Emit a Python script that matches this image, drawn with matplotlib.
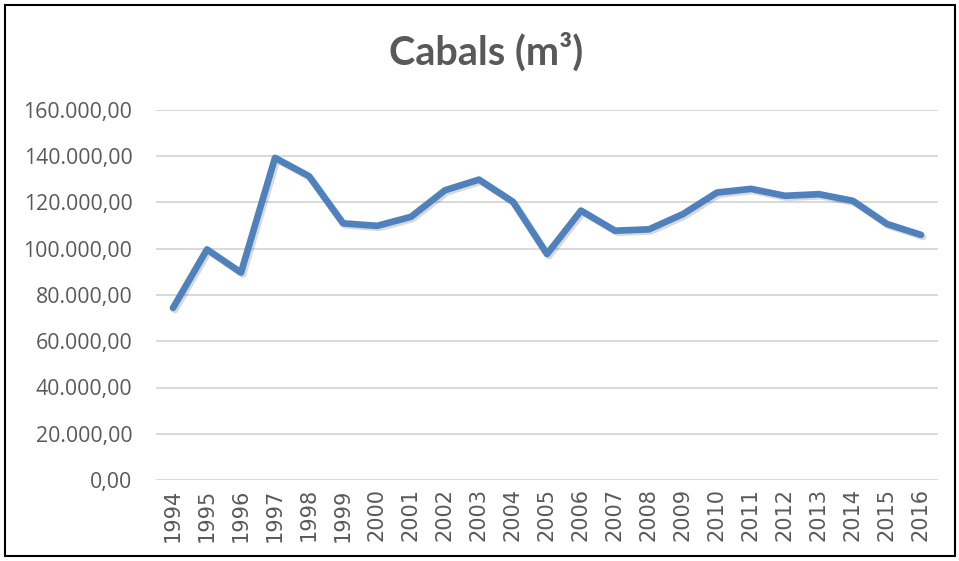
import matplotlib
matplotlib.use("Agg")
import matplotlib.pyplot as plt
from matplotlib.patches import Rectangle
from matplotlib.ticker import FuncFormatter
import matplotlib.patheffects as pe

years = [str(y) for y in range(1994, 2017)]
cabals = [74400, 99700, 89700, 139300, 131400, 111000, 109900, 113800, 125300,
          129900, 120300, 97700, 116500, 107800, 108400, 115000, 124300, 125900,
          122900, 123600, 120700, 110700, 106000]
yticks = [0, 20000, 40000, 60000, 80000, 100000, 120000, 140000, 160000]

fig = plt.figure(figsize=(9.59, 5.61), dpi=100)
fig.patches.append(Rectangle((4.5/959, 5/561), 950/959, 551/561, transform=fig.transFigure,
                             fill=False, edgecolor="black", linewidth=1.5))

ax = fig.add_axes([156/959, 1-480/561, (938-156)/959, (480-110)/561])
x = list(range(len(years)))
ax.plot(x, cabals, color="#4F81BD", linewidth=4.8, solid_capstyle="round",
        solid_joinstyle="round",
        path_effects=[pe.SimpleLineShadow(offset=(1.5, -1.5), alpha=0.15, shadow_color="black"), pe.Normal()],
        zorder=3)
ax.set_xlim(-0.5, len(years)-0.5)
ax.set_ylim(0, 160000)
ax.set_yticks(yticks)

def fmt(v, pos):
    s = f"{int(v):,}".replace(",", ".")
    return s + ",00"
ax.yaxis.set_major_formatter(FuncFormatter(fmt))
ax.set_xticks(x)
ax.set_xticklabels(years, rotation=90)
ax.grid(axis="y", color="#d9d9d9", linewidth=1.4, zorder=0)
ax.set_axisbelow(True)
for s in ax.spines.values():
    s.set_visible(False)
ax.tick_params(axis="both", length=0, colors="#595959")
ax.tick_params(axis="y", pad=17, labelsize=15.3)
ax.tick_params(axis="x", pad=6, labelsize=15)
for lbl in ax.get_yticklabels():
    lbl.set_fontfamily("Open Sans")
for lbl in ax.get_xticklabels():
    lbl.set_fontfamily("DejaVu Sans")

fig.text(486/959, 1-52/561, "Cabals (m³)", ha="center", va="center", fontsize=28.5,
         fontweight="bold", color="#595959", family="Lato")

fig.savefig("out.png", dpi=100)
